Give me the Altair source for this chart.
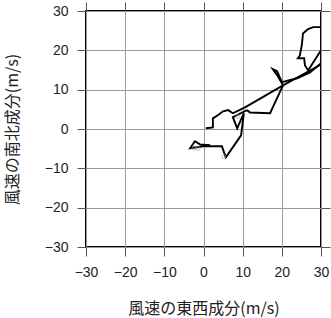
import altair as alt
import pandas as pd

# Hodograph segments (east-west u, north-south v) in m/s
seg_a_u = [0.6, 2.4, 2.4, 3.2, 5.0, 6.3, 7.5, 10.6, 20.3, 30.0]
seg_a_v = [0.2, 0.4, 2.7, 3.2, 4.5, 4.8, 4.0, 5.5, 11.1, 16.4]

seg_b_u = [11.1, 7.5, 8.6, 10.3, 9.6, 5.7, 4.7, -0.1, -3.4, -2.2, -0.9, 1.7]
seg_b_v = [4.8, 3.0, 0.2, 4.0, -1.6, -7.2, -4.4, -4.4, -4.9, -3.1, -3.9, -4.1]

seg_c_u = [11.1, 11.9, 17.0, 20.3, 18.8, 17.7, 18.8, 20.0, 23.9, 27.2, 30.0]
seg_c_v = [4.8, 4.2, 4.0, 11.1, 13.7, 15.2, 14.7, 11.9, 12.9, 14.4, 16.7]

seg_d_u = [30.0, 26.7, 25.9, 25.7, 24.1, 24.6, 25.1, 25.4, 26.7, 28.0, 30.0]
seg_d_v = [20.0, 14.9, 16.2, 18.0, 18.0, 18.7, 21.3, 24.3, 25.4, 25.9, 25.9]

mark_u = [8.8, 5.2, -2.4, -1.4]
mark_v = [3.2, -7.0, -4.9, -4.9]

ticks = [-30, -20, -10, 0, 10, 20, 30]

rows = []
for name, us, vs in [("a", seg_a_u, seg_a_v), ("b", seg_b_u, seg_b_v),
                     ("c", seg_c_u, seg_c_v), ("d", seg_d_u, seg_d_v)]:
    for i, (u, v) in enumerate(zip(us, vs)):
        rows.append({"u": u, "v": v, "seg": name, "ord": i})
df = pd.DataFrame(rows)
marks = pd.DataFrame({"u": mark_u, "v": mark_v})

xs = alt.Scale(domain=[-30, 30], nice=False, zero=False)
ys = alt.Scale(domain=[-30, 30], nice=False, zero=False)

xaxis = alt.Axis(values=ticks, title="風速の東西成分(m/s)", grid=True, gridColor="#9a9a9a",
                 gridWidth=1, tickSize=9, tickColor="#555", labelPadding=9, labelFlush=False,
                 domain=False, titleY=61, titleBaseline="middle")
yaxis = alt.Axis(values=ticks, title="風速の南北成分(m/s)", grid=True, gridColor="#9a9a9a",
                 gridWidth=1, tickSize=9, tickColor="#555", labelPadding=9, labelFlush=False,
                 domain=False, titleX=-74, titleBaseline="middle", titleAngle=-90)

line = alt.Chart(df).mark_line(color="black", strokeWidth=1.9, clip=True).encode(
    x=alt.X("u:Q", scale=xs, axis=xaxis),
    y=alt.Y("v:Q", scale=ys, axis=yaxis),
    detail="seg:N",
    order="ord:Q",
)

pts = alt.Chart(marks).mark_point(shape="circle", size=16, color="#999", filled=False,
                                  strokeWidth=0.9).encode(
    x=alt.X("u:Q", scale=xs, axis=alt.Axis(orient="top", values=ticks, labels=False, title=None,
                                          grid=False, tickSize=9, tickColor="#555", domain=False)),
    y=alt.Y("v:Q", scale=ys, axis=alt.Axis(orient="right", values=ticks, labels=False, title=None,
                                          grid=False, tickSize=9, tickColor="#555", domain=False)),
)

chart = alt.layer(line, pts).resolve_axis(x="independent", y="independent").properties(
    width=235, height=236,
    autosize=alt.AutoSizeParams(type="none"),
    padding={"left": 86, "top": 11, "right": 10, "bottom": 71},
).configure_view(stroke="black", strokeWidth=2).configure_axis(
    labelFont="Liberation Sans", labelFontSize=14, labelColor="#222",
    titleFont="Noto Sans CJK JP", titleFontSize=16, titleFontWeight="normal", titleColor="#222",
)

chart.save("out.html", embed_options={"renderer": "svg", "actions": False})
